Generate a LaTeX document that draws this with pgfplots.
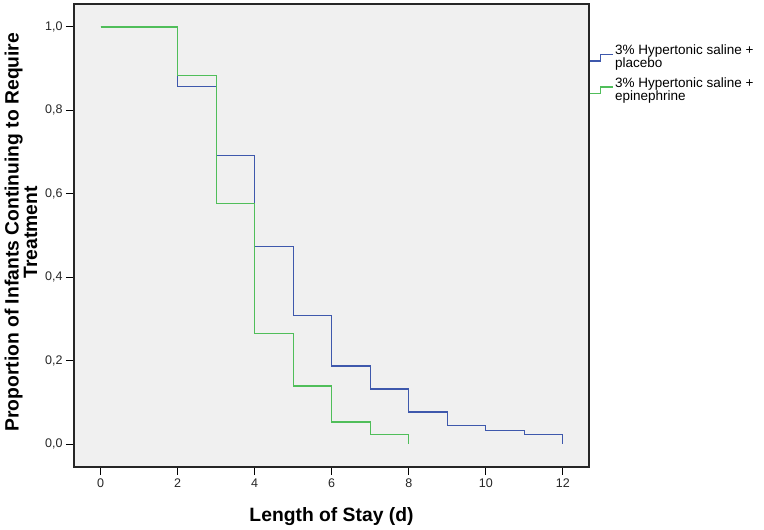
\documentclass[border=0pt]{standalone}
\usepackage{fontspec}
\setmainfont{Liberation Sans}
\usepackage{pgfplots}
\pgfplotsset{compat=1.18}
\definecolor{bgc}{RGB}{240,240,240}
\definecolor{kmblue}{RGB}{62,88,172}
\definecolor{kmgreen}{RGB}{80,190,90}
\begin{document}
\begin{tikzpicture}
\path[use as bounding box] (0,0) rectangle (764pt,530pt);
\begin{axis}[
  at={(74pt,63pt)}, anchor=south west,
  scale only axis, width=515pt, height=463pt,
  xmin=-0.69, xmax=12.68, ymin=-0.055, ymax=1.055,
  axis background/.style={fill=bgc},
  axis line style={black!85, line width=1.3pt},
  tick align=outside, major tick length=8pt,
  xtick pos=bottom, ytick pos=left,
  tick style={black, line width=0.9pt},
  xtick={0,2,...,12},
  xticklabels={0,2,4,6,8,10,12},
  ytick={0,0.2,0.4,0.6,0.8,1.0},
  yticklabels={{0,0},{0,2},{0,4},{0,6},{0,8},{1,0}},
  /pgf/number format/assume math mode=true,
  ticklabel style={font=\fontsize{12.5}{14}\selectfont, text=black!85},
  xlabel={Length of Stay (d)},
  ylabel={Proportion of Infants Continuing to Require\\Treatment},
  xlabel style={at={(axis description cs:0.5,-0.106)}, anchor=center, font=\fontsize{19.3}{20}\selectfont\bfseries},
  ylabel style={at={(axis description cs:-0.103,0.507)}, anchor=center, align=center, font=\fontsize{19.3}{17}\selectfont\bfseries},
  legend style={at={(axis description cs:1,0.9126)}, anchor=north west, draw=none, fill=none, inner sep=0pt, outer sep=0pt, font=\fontsize{13.5}{13}\selectfont, nodes={inner sep=0pt, align=left}, column sep=2pt, row sep=8.5pt},
  legend cell align=left,
  legend image code/.code={\draw[#1] (0pt,-4.3pt) -- (10.7pt,-4.3pt) -- (10.7pt,2.3pt) -- (23pt,2.3pt);},
]
\addplot[kmblue, line width=1.2pt, const plot, mark=none] coordinates {
  (0,1) (2,0.857) (3,0.692) (4,0.473) (5,0.308) (6,0.187) (7,0.132)
  (8,0.077) (9,0.044) (10,0.033) (11,0.022) (12,0.0)
};
\addlegendentry{3\% Hypertonic saline +\\placebo}
\addplot[kmgreen, line width=1.2pt, const plot, mark=none] coordinates {
  (0,1) (2,0.883) (3,0.576) (4,0.265) (5,0.139) (6,0.053) (7,0.022) (8,0.0)
};
\addlegendentry{3\% Hypertonic saline +\\epinephrine}
\end{axis}
\end{tikzpicture}
\end{document}
